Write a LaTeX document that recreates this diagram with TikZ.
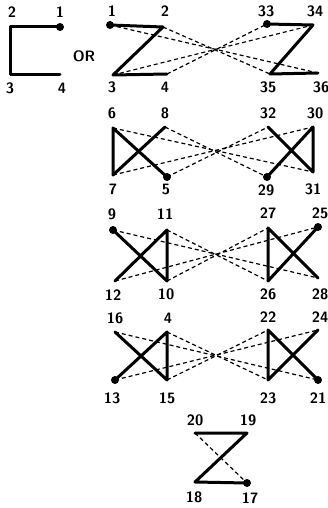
\documentclass[tikz,border=0pt]{standalone}
\usetikzlibrary{positioning}
\begin{document}
\begin{tikzpicture}[x=1pt,y=-1pt,
    bar/.style={line width=3pt, line cap=round, line join=round},
    link/.style={line width=1.2pt, dash pattern=on 4pt off 3pt},
    num/.style={font=\sffamily\bfseries\fontsize{15}{17}\selectfont, inner sep=1pt},
    dot/.style={circle, fill, inner sep=0pt, minimum size=8pt}]

    \useasboundingbox (0,0) rectangle (328,508);

    % Single bend, left
    \coordinate (a2) at (10,27);
    \coordinate (a1) at (60,27);
    \coordinate (a3) at (10,75);
    \coordinate (a4) at (60,75);
    \node[num] (la2) at (12,12) {2};
    \node[num] (la1) at (60,12) {1};
    \node[num] (la3) at (10,88) {3};
    \node[num] (la4) at (62,88) {4};
    \node[num] (or) at (84,56) {OR};

    % Row 1
    \coordinate (p1) at (110,25);
    \coordinate (p2) at (163,27);
    \coordinate (p3) at (113,75);
    \coordinate (p4) at (167,74);
    \coordinate (p33) at (267,24);
    \coordinate (p34) at (313,25);
    \coordinate (p35) at (270,74);
    \coordinate (p36) at (318,73);
    \node[num] (l1) at (112,11) {1};
    \node[num] (l2) at (165,11) {2};
    \node[num] (l3) at (112,87) {3};
    \node[num] (l4) at (165,87) {4};
    \node[num] (l33) at (266,11) {33};
    \node[num] (l34) at (315,11) {34};
    \node[num] (l35) at (268,87) {35};
    \node[num] (l36) at (321,87) {36};

    % Row 2
    \coordinate (p6) at (113,128);
    \coordinate (p8) at (165,127);
    \coordinate (p7) at (113,175);
    \coordinate (p5) at (167,177);
    \coordinate (p32) at (268,127);
    \coordinate (p30) at (313,127);
    \coordinate (p29) at (267,177);
    \coordinate (p31) at (313,172);
    \node[num] (l6) at (112,113) {6};
    \node[num] (l8) at (165,113) {8};
    \node[num] (l7) at (113,189) {7};
    \node[num] (l5) at (166,189) {5};
    \node[num] (l32) at (268,113) {32};
    \node[num] (l30) at (315,113) {30};
    \node[num] (l29) at (266,190) {29};
    \node[num] (l31) at (313,189) {31};

    % Row 3
    \coordinate (p9) at (113,230);
    \coordinate (p11) at (167,230);
    \coordinate (p12) at (115,281);
    \coordinate (p10) at (167,281);
    \coordinate (p27) at (268,228);
    \coordinate (p25) at (318,227);
    \coordinate (p26) at (268,281);
    \coordinate (p28) at (318,278);
    \node[num] (l9) at (112,214) {9};
    \node[num] (l11) at (165,214) {11};
    \node[num] (l12) at (113,295) {12};
    \node[num] (l10) at (166,294) {10};
    \node[num] (l27) at (268,213) {27};
    \node[num] (l25) at (320,213) {25};
    \node[num] (l26) at (268,294) {26};
    \node[num] (l28) at (320,294) {28};

    % Row 4
    \coordinate (p16) at (115,332);
    \coordinate (p4b) at (167,332);
    \coordinate (p13) at (115,380);
    \coordinate (p15) at (167,380);
    \coordinate (p22) at (268,330);
    \coordinate (p24) at (318,330);
    \coordinate (p23) at (268,380);
    \coordinate (p21) at (318,380);
    \node[num] (l16) at (115,318) {16};
    \node[num] (l4b) at (168,318) {4};
    \node[num] (l13) at (112,398) {13};
    \node[num] (l15) at (167,398) {15};
    \node[num] (l22) at (268,317) {22};
    \node[num] (l24) at (320,317) {24};
    \node[num] (l23) at (268,398) {23};
    \node[num] (l21) at (318,398) {21};

    % Last bend
    \coordinate (p20) at (195,433);
    \coordinate (p19) at (247,433);
    \coordinate (p18) at (195,482);
    \coordinate (p17) at (247,483);
    \node[num] (l20) at (195,420) {20};
    \node[num] (l19) at (248,420) {19};
    \node[num] (l18) at (194,497) {18};
    \node[num] (l17) at (250,498) {17};

    % Crossing links
    \foreach \a/\b in {p1/p36, p2/p35, p3/p34, p4/p33,
                       p6/p31, p8/p29, p7/p30, p5/p32,
                       p9/p28, p11/p26, p12/p25, p10/p27,
                       p16/p21, p4b/p23, p13/p24, p15/p22, p20/p17}
        \draw[link] (\a) -- (\b);

    % Heavy strokes
    \draw[bar] (a1) -- (a2) -- (a3) -- (a4);
    \draw[bar] (p1) -- (p2) -- (p3) -- (p4);
    \draw[bar] (p33) -- (p34) -- (p35) -- (p36);
    \draw[bar] (p7) -- (p6) -- (p5);
    \draw[bar] (p7) -- (p8);
    \draw[bar] (p29) -- (p30) -- (p31) -- (p32);
    \draw[bar] (p9) -- (p10) -- (p11) -- (p12);
    \draw[bar] (p25) -- (p26) -- (p27) -- (p28);
    \draw[bar] (p16) -- (p15) -- (p4b) -- (p13);
    \draw[bar] (p24) -- (p23) -- (p22) -- (p21);
    \draw[bar] (p20) -- (p19) -- (p18) -- (p17);

    % Ends
    \foreach \p in {a1, p1, p33, p5, p29, p9, p25, p13, p21, p17}
        \node[dot] (d\p) at (\p) {};

\end{tikzpicture}
\end{document}
